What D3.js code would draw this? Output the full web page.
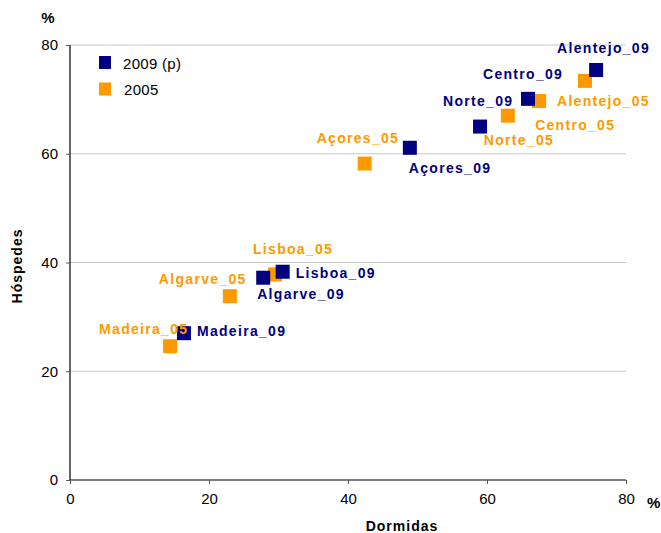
<!DOCTYPE html>
<html>
<head>
<meta charset="utf-8">
<script src="https://cdn.jsdelivr.net/npm/d3@7/dist/d3.min.js"></script>
<style>
  html, body { margin: 0; padding: 0; background: #fff; }
  svg { display: block; font-family: "Liberation Sans", Arial, sans-serif; }
</style>
</head>
<body>
<svg id="chart" width="661" height="533"></svg>
<script>
// ---- data ----
const regions = ["Norte", "Centro", "Lisboa", "Alentejo", "Algarve", "Açores", "Madeira"];
const dormidas2009 = [59.0, 65.9, 30.6, 75.7, 27.8, 48.9, 16.4];
const hospedes2009 = [65.0, 70.1, 38.3, 75.4, 37.2, 61.1, 27.0];
const dormidas2005 = [63.0, 67.5, 29.5, 74.1, 23.0, 42.4, 14.4];
const hospedes2005 = [67.0, 69.7, 37.8, 73.4, 33.8, 58.2, 24.6];
const seriesNames = ["2009 (p)", "2005"];
const xTicks = [0, 20, 40, 60, 80];
const yTicks = [0, 20, 40, 60, 80];

// ---- label placement (px offsets from marker centre) ----
const labelOffsets = {
  "Norte_09": [-37, -21], "Norte_05": [-24, 29],
  "Centro_09": [-45, -20], "Centro_05": [-4, 29],
  "Lisboa_09": [13, 6], "Lisboa_05": [-22, -20],
  "Alentejo_09": [-39, -17], "Alentejo_05": [-28, 25],
  "Algarve_09": [-6, 21], "Algarve_05": [-71, -12],
  "Açores_09": [-1, 25], "Açores_05": [-48, -21],
  "Madeira_09": [13, 3], "Madeira_05": [-71, -12]
};

const colors = { "2009 (p)": "#000080", "2005": "#FF9900" };

const svg = d3.select("#chart");
const pLeft = 70, pRight = 626, pTop = 45, pBottom = 480;

const x = d3.scaleLinear().domain([0, 80]).range([pLeft, pRight]);
const y = d3.scaleLinear().domain([0, 80]).range([pBottom, pTop]);

// gridlines
svg.append("g").selectAll("line")
  .data(yTicks.filter(d => d > 0))
  .join("line")
  .attr("x1", pLeft).attr("x2", pRight)
  .attr("y1", d => y(d)).attr("y2", d => y(d))
  .attr("stroke", "#c8c8c8").attr("stroke-width", 1);

// axes
const xAxis = d3.axisBottom(x).tickValues(xTicks).tickSize(4).tickPadding(9);
const yAxis = d3.axisLeft(y).tickValues(yTicks).tickSize(4).tickPadding(8);

const gx = svg.append("g").attr("transform", `translate(0,${pBottom})`).call(xAxis);
const gy = svg.append("g").attr("transform", `translate(${pLeft},0)`).call(yAxis);
[gx, gy].forEach(g => {
  g.select(".domain").attr("stroke", "#000").attr("stroke-width", 1.2);
  g.selectAll(".tick line").attr("stroke", "#555");
  g.selectAll(".tick text").attr("font-size", 15).attr("fill", "#000")
    .attr("font-family", "'Liberation Sans', Arial, sans-serif");
});
gy.select(".domain").attr("d", `M0,${pBottom}V${pTop}`);
gx.select(".domain").attr("d", `M${pLeft},0H${pRight}`);

// axis titles
svg.append("text").attr("x", 48).attr("y", 23).attr("text-anchor", "middle")
  .attr("font-size", 15).attr("font-weight", "bold").text("%");
svg.append("text").attr("x", 647).attr("y", 508)
  .attr("font-size", 15).attr("font-weight", "bold").text("%");
svg.append("text").attr("x", 402).attr("y", 531).attr("text-anchor", "middle")
  .attr("font-size", 14).attr("font-weight", "bold").attr("letter-spacing", 1)
  .text("Dormidas");
svg.append("text").attr("transform", "translate(22,266) rotate(-90)").attr("text-anchor", "middle")
  .attr("font-size", 14).attr("font-weight", "bold").attr("letter-spacing", 1)
  .text("Hóspedes");

// build point tables
const pts2009 = regions.map((r, i) => ({ label: r + "_09", series: "2009 (p)", dx: dormidas2009[i], hy: hospedes2009[i] }));
const pts2005 = regions.map((r, i) => ({ label: r + "_05", series: "2005", dx: dormidas2005[i], hy: hospedes2005[i] }));
const allPts = pts2005.concat(pts2009);

const S = 14;
svg.append("g").selectAll("rect")
  .data(allPts)
  .join("rect")
  .attr("x", d => x(d.dx) - S / 2)
  .attr("y", d => y(d.hy) - S / 2)
  .attr("width", S).attr("height", S)
  .attr("fill", d => colors[d.series]);

svg.append("g").selectAll("text")
  .data(allPts)
  .join("text")
  .attr("x", d => x(d.dx) + labelOffsets[d.label][0])
  .attr("y", d => y(d.hy) + labelOffsets[d.label][1])
  .attr("font-size", 14).attr("font-weight", "bold").attr("letter-spacing", 1.3)
  .attr("fill", d => colors[d.series])
  .text(d => d.label);

// legend
const leg = svg.append("g");
seriesNames.forEach((name, i) => {
  const yy = 63 + i * 26.5;
  leg.append("rect").attr("x", 99).attr("y", yy - 7).attr("width", 12).attr("height", 13)
    .attr("fill", colors[name]);
  leg.append("text").attr("x", 123 + i).attr("y", yy + 5.5)
    .attr("font-size", 15).attr("letter-spacing", 0.3).text(name);
});
</script>
</body>
</html>
